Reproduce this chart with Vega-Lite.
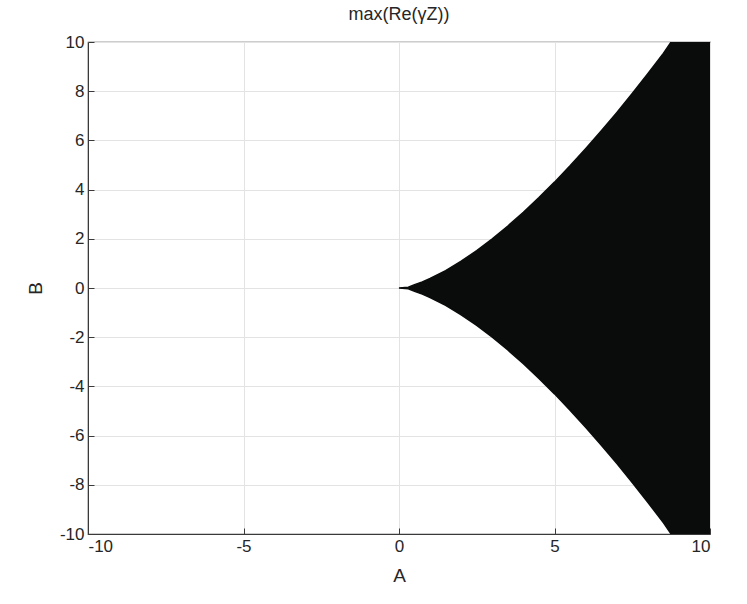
{
  "$schema": "https://vega.github.io/schema/vega-lite/v6.json",
  "autosize": "none",
  "width": 622,
  "height": 492,
  "padding": {"left": 88, "top": 42, "right": 37, "bottom": 70},
  "background": "white",
  "title": {"text": "max(Re(γZ))", "font": "Liberation Sans", "fontSize": 18, "fontWeight": "normal", "color": "#262626", "offset": 9},
  "config": {
    "view": {"stroke": "#3a3a3a", "strokeWidth": 1.2},
    "axis": {
      "labelFont": "Liberation Sans", "labelFontSize": 17, "labelColor": "#262626",
      "titleFont": "Liberation Sans", "titleFontSize": 19, "titleFontWeight": "normal", "titleColor": "#262626",
      "domainColor": "#3a3a3a", "tickColor": "#3a3a3a", "tickSize": -6,
      "gridColor": "#e3e3e3", "gridWidth": 1,
      "labelExpr": "toString(datum.value)"
    }
  },
  "data": {"values": [
    {"A": 0, "Bhi": 0, "Blo": 0},
    {"A": 0.3, "Bhi": 0.03, "Blo": -0.03},
    {"A": 0.5, "Bhi": 0.136, "Blo": -0.136},
    {"A": 0.75, "Bhi": 0.25, "Blo": -0.25},
    {"A": 1, "Bhi": 0.385, "Blo": -0.385},
    {"A": 1.5, "Bhi": 0.707, "Blo": -0.707},
    {"A": 2, "Bhi": 1.089, "Blo": -1.089},
    {"A": 2.5, "Bhi": 1.521, "Blo": -1.521},
    {"A": 3, "Bhi": 2.0, "Blo": -2.0},
    {"A": 3.5, "Bhi": 2.52, "Blo": -2.52},
    {"A": 4, "Bhi": 3.079, "Blo": -3.079},
    {"A": 4.5, "Bhi": 3.674, "Blo": -3.674},
    {"A": 5, "Bhi": 4.303, "Blo": -4.303},
    {"A": 5.5, "Bhi": 4.965, "Blo": -4.965},
    {"A": 6, "Bhi": 5.657, "Blo": -5.657},
    {"A": 6.5, "Bhi": 6.379, "Blo": -6.379},
    {"A": 7, "Bhi": 7.128, "Blo": -7.128},
    {"A": 7.5, "Bhi": 7.905, "Blo": -7.905},
    {"A": 8, "Bhi": 8.709, "Blo": -8.709},
    {"A": 8.5, "Bhi": 9.539, "Blo": -9.539},
    {"A": 8.75, "Bhi": 10, "Blo": -10},
    {"A": 10, "Bhi": 10, "Blo": -10}
  ]},
  "mark": {"type": "area", "color": "#0a0c0b", "stroke": "#0a0c0b", "strokeWidth": 1.5, "clip": true},
  "encoding": {
    "x": {"field": "A", "type": "quantitative", "scale": {"domain": [-10, 10], "nice": false},
      "axis": {"values": [-10, -5, 0, 5, 10], "title": "A", "labelPadding": 10, "titlePadding": 12}},
    "y": {"field": "Bhi", "type": "quantitative", "scale": {"domain": [-10, 10], "nice": false},
      "axis": {"values": [-10, -8, -6, -4, -2, 0, 2, 4, 6, 8, 10], "title": "B", "labelPadding": 10, "titlePadding": 14}},
    "y2": {"field": "Blo"}
  }
}
